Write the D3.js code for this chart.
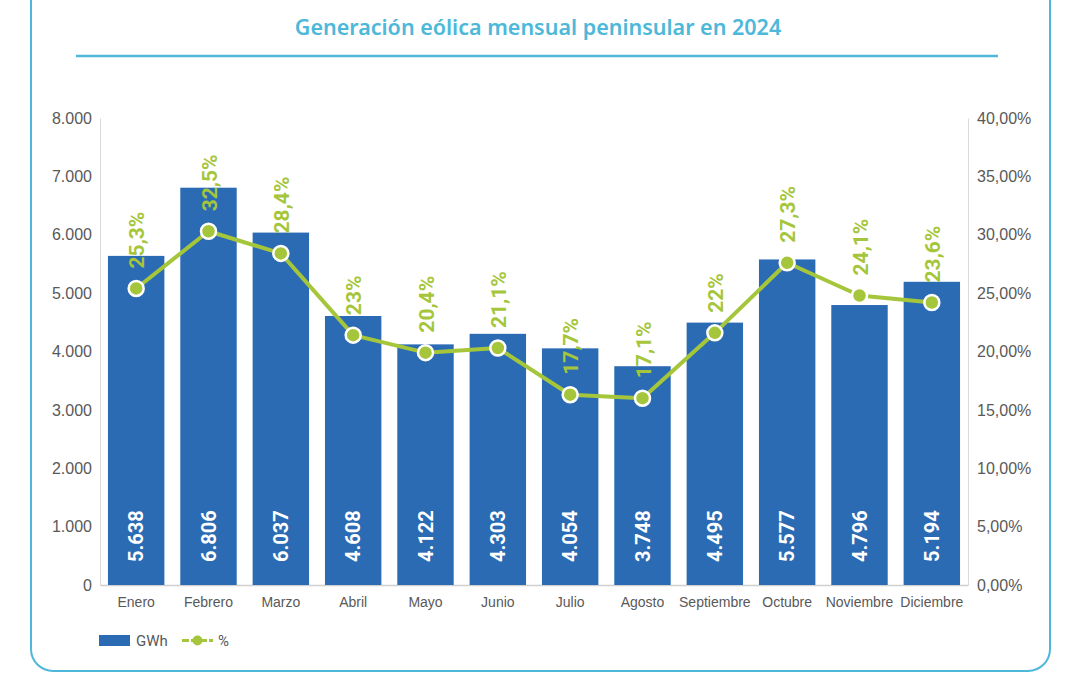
<!DOCTYPE html>
<html>
<head>
<meta charset="utf-8">
<script src="https://cdn.jsdelivr.net/npm/d3@7"></script>
<style>
  body { margin: 0; background: #fff; }
  svg { display: block; font-family: Roboto, "Noto Sans", sans-serif; }
</style>
</head>
<body>
<div id="chart"></div>
<script>
// datos
const months = ["Enero", "Febrero", "Marzo", "Abril", "Mayo", "Junio", "Julio",
  "Agosto", "Septiembre", "Octubre", "Noviembre", "Diciembre"];
const gwh = [5638, 6806, 6037, 4608, 4122, 4303, 4054, 3748, 4495, 5577, 4796, 5194];
// posición de los puntos de la línea (% sobre el eje derecho)
const pct = [25.4, 30.3, 28.4, 21.4, 19.9, 20.3, 16.3, 16.0, 21.6, 27.6, 24.8, 24.2];
// etiquetas tal y como aparecen
const pctLabels = ["25,3%", "32,5%", "28,4%", "23%", "20,4%", "21,1%", "17,7%",
  "17,1%", "22%", "27,3%", "24,1%", "23,6%"];
const leftTicks = [0, 1000, 2000, 3000, 4000, 5000, 6000, 7000, 8000];
const rightTicks = [0, 5, 10, 15, 20, 25, 30, 35, 40];

const width = 1080, height = 675;
const margin = {top: 118, right: 112, bottom: 90, left: 100};

const blue = "#2a6bb4";
const green = "#a5c63b";
const cyan = "#4db8d9";
const gray = "#595959";

const svg = d3.select("#chart")
    .append("svg")
    .attr("width", width)
    .attr("height", height);

// marco redondeado
svg.append("rect")
    .attr("x", 31).attr("y", -40)
    .attr("width", 1019).attr("height", 711)
    .attr("rx", 22)
    .style("fill", "none")
    .style("stroke", cyan)
    .style("stroke-width", 2);

svg.append("text")
    .attr("x", 538).attr("y", 35)
    .attr("text-anchor", "middle")
    .style("font-family", "'Noto Sans', sans-serif")
    .style("font-weight", 600)
    .style("font-size", "21.5px")
    .style("fill", cyan)
    .text("Generación eólica mensual peninsular en 2024");

svg.append("line")
    .attr("x1", 76).attr("x2", 998)
    .attr("y1", 56).attr("y2", 56)
    .style("stroke", cyan)
    .style("stroke-width", 2.5);

const x = d3.scaleBand()
    .domain(months)
    .range([margin.left, width - margin.right])
    .paddingInner(0.22)
    .paddingOuter(0.11);

const y = d3.scaleLinear()
    .domain([0, 8000])
    .range([height - margin.bottom, margin.top]);

const y2 = d3.scaleLinear()
    .domain([0, 40])
    .range([height - margin.bottom, margin.top]);

const fmtThousands = d3.formatLocale({decimal: ",", thousands: ".", grouping: [3], currency: ["", "€"]}).format(",d");
const fmtPct = d => d3.format(".2f")(d).replace(".", ",") + "%";

// ejes
const leftAxis = svg.append("g")
    .attr("transform", `translate(${margin.left},0)`)
    .call(d3.axisLeft(y).tickValues(leftTicks).tickFormat(fmtThousands).tickSize(0).tickPadding(8));

const rightAxis = svg.append("g")
    .attr("transform", `translate(${width - margin.right},0)`)
    .call(d3.axisRight(y2).tickValues(rightTicks).tickFormat(fmtPct).tickSize(0).tickPadding(9));

const bottomAxis = svg.append("g")
    .attr("transform", `translate(0,${height - margin.bottom})`)
    .call(d3.axisBottom(x).tickSize(0).tickPadding(12));

[leftAxis, rightAxis].forEach(g => {
    g.select(".domain").style("stroke", "#d9d9d9").style("stroke-width", 1);
    g.selectAll("text").style("font-size", "16px").style("fill", gray);
});
bottomAxis.select(".domain").style("stroke", "#d0d0d0").style("stroke-width", 1.5);
bottomAxis.selectAll("text").style("font-size", "14px").style("fill", gray);

// barras
svg.append("g")
    .selectAll("rect")
    .data(gwh)
    .enter()
    .append("rect")
    .attr("x", (d, i) => x(months[i]))
    .attr("y", d => y(d))
    .attr("width", x.bandwidth())
    .attr("height", d => y(0) - y(d))
    .style("fill", blue);

svg.append("g")
    .selectAll("text")
    .data(gwh)
    .enter()
    .append("text")
    .attr("transform", (d, i) => `translate(${x(months[i]) + x.bandwidth() / 2 + 7},${y(0) - 23}) rotate(-90)`)
    .style("font-size", "20px")
    .style("font-weight", 700)
    .style("fill", "#fff")
    .text(d => fmtThousands(d));

// línea de %
const cx = i => x(months[i]) + x.bandwidth() / 2;
const line = d3.line()
    .x((d, i) => cx(i))
    .y(d => y2(d));

svg.append("path")
    .datum(pct)
    .attr("d", line)
    .style("fill", "none")
    .style("stroke", green)
    .style("stroke-width", 4)
    .style("stroke-linejoin", "round");

svg.append("g")
    .selectAll("circle")
    .data(pct)
    .enter()
    .append("circle")
    .attr("cx", (d, i) => cx(i))
    .attr("cy", d => y2(d))
    .attr("r", 7.5)
    .style("fill", green)
    .style("stroke", "#fff")
    .style("stroke-width", 2.5);

svg.append("g")
    .selectAll("text")
    .data(pct)
    .enter()
    .append("text")
    .attr("transform", (d, i) => `translate(${cx(i) + 8},${y2(d) - 20}) rotate(-90)`)
    .style("font-size", "21px")
    .style("font-weight", 700)
    .style("fill", green)
    .text((d, i) => pctLabels[i]);

// leyenda
const legend = svg.append("g").attr("transform", "translate(99,635)");
legend.append("rect")
    .attr("width", 31).attr("height", 11)
    .style("fill", blue);
legend.append("text")
    .attr("x", 37).attr("y", 11)
    .style("font-size", "15px")
    .style("fill", gray)
    .text("GWh");
legend.append("line")
    .attr("x1", 83).attr("x2", 114)
    .attr("y1", 5.5).attr("y2", 5.5)
    .style("stroke", green)
    .style("stroke-width", 3)
    .style("stroke-dasharray", "7,2");
legend.append("circle")
    .attr("cx", 98.5).attr("cy", 5.5).attr("r", 5)
    .style("fill", green);
legend.append("text")
    .attr("x", 119).attr("y", 11)
    .style("font-size", "15px")
    .style("fill", gray)
    .text("%");
</script>
</body>
</html>
